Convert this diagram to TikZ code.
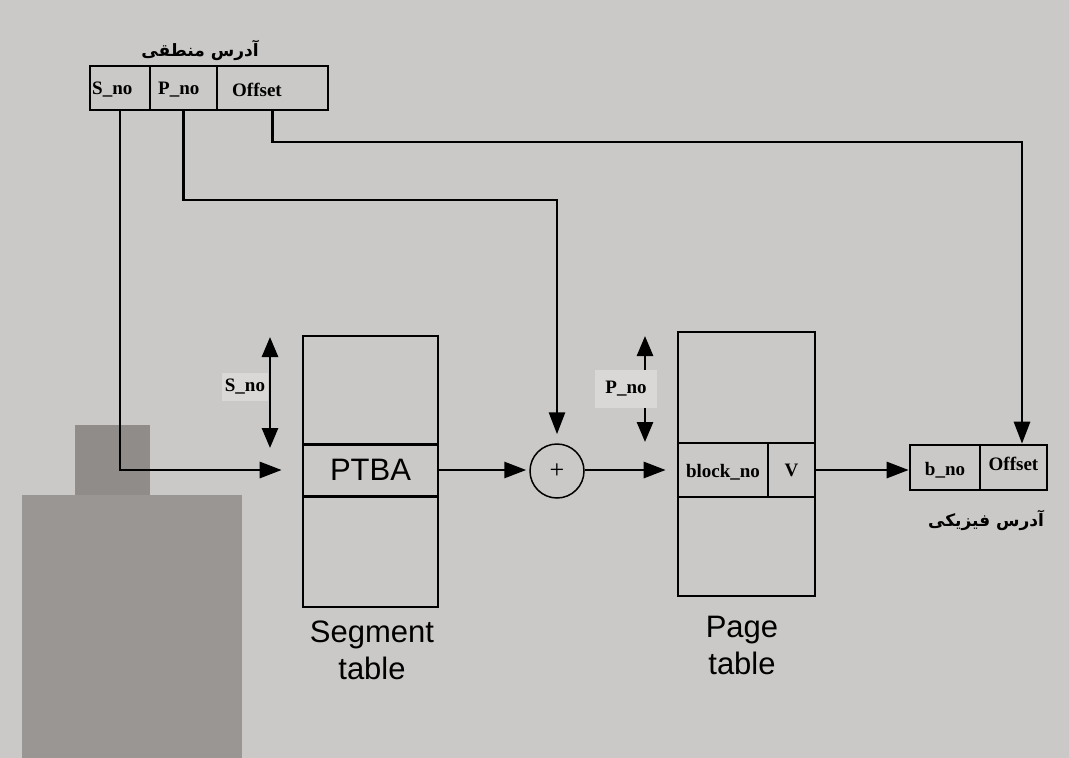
\documentclass[tikz,border=0pt]{standalone}
\usepackage{fontspec}
\setmainfont{Liberation Serif}
\newfontfamily\arialf{Liberation Sans}
\newfontfamily\farsi[Script=Arabic]{DejaVu Sans}
\TeXXeTstate=1
\usetikzlibrary{arrows.meta}
\definecolor{bgc}{HTML}{CBC9C7}
\definecolor{lightc}{HTML}{D9D8D6}
\definecolor{patchA}{HTML}{8F8C8A}
\definecolor{patchB}{HTML}{9A9694}
\tikzset{
  cellbox/.style={draw=black, line width=2.6pt, inner sep=0pt},
  lbl/.style={font=\bfseries\fontsize{19}{21}\selectfont, inner sep=2pt},
  sanslbl/.style={font=\arialf\fontsize{31}{37}\selectfont, align=center, inner sep=0pt},
  farsilbl/.style={font=\farsi\bfseries\fontsize{17}{19}\selectfont, inner sep=0pt},
  conn/.style={line width=2.8pt, -{Triangle[length=22pt,width=16pt]}},
  dbl/.style={line width=2.8pt, {Triangle[length=20pt,width=16pt]}-{Triangle[length=20pt,width=16pt]}},
}
\begin{document}
\begin{tikzpicture}[x=1pt,y=-1pt]
\useasboundingbox (0,0) rectangle (1069,758);
\fill[bgc] (0,0) rectangle (1069,758);
\fill[patchA] (75,425) rectangle (150,495);
\fill[patchB] (22,495) rectangle (242,758);

% logical address
\node[cellbox, minimum width=60pt, minimum height=44pt] (ls) at (120,88) {};
\node[cellbox, minimum width=67pt, minimum height=44pt] (lp) at (183.5,88) {};
\node[cellbox, minimum width=111pt, minimum height=44pt] (lo) at (272.5,88) {};
\node[lbl, anchor=west] (lst) at (90,90) {S\_no};
\node[lbl, anchor=west] (lpt) at (156,90) {P\_no};
\node[lbl, anchor=west] (lot) at (230,90) {Offset};
\node[farsilbl] (ltitle) at (200,50) {\beginR آدرس منطقی\endR};

% segment table
\node[cellbox, minimum width=135pt, minimum height=109pt] (segtop) at (370.5,390.5) {};
\node[cellbox, minimum width=135pt, minimum height=52pt, font=\arialf\fontsize{31}{33}\selectfont] (ptba) at (370.5,470) {PTBA};
\node[cellbox, minimum width=135pt, minimum height=110pt] (segbot) at (370.5,552) {};
\node[sanslbl] (segname) at (372,650) {Segment\\table};

% S_no range
\coordinate (sa) at (270,337);
\coordinate (sb) at (270,448);
\draw[dbl] (sa) -- (sb);
\node[lbl, fill=lightc, inner xsep=3pt, inner ysep=6pt] (sno) at (245,387) {S\_no};

% adder
\node[draw=black, circle, line width=1.5pt, minimum size=54pt, inner sep=0pt, font=\fontsize{26}{28}\selectfont] (plus) at (557,471) {+};

% page table
\node[cellbox, minimum width=137pt, minimum height=111pt] (pgtop) at (746.5,387.5) {};
\node[cellbox, minimum width=90pt, minimum height=54pt] (blk) at (723,470) {};
\node[lbl] (blkt) at (723,472) {block\_no};
\node[cellbox, minimum width=47pt, minimum height=54pt] (vv) at (791.5,470) {};
\node[lbl] (vvt) at (791.5,470) {V};
\node[cellbox, minimum width=137pt, minimum height=99pt] (pgbot) at (746.5,546.5) {};
\node[sanslbl] (pgname) at (742,645) {Page\\table};

% P_no range
\coordinate (pa) at (645,336);
\coordinate (pb) at (645,442);
\draw[dbl] (pa) -- (pb);
\node[lbl, fill=lightc, minimum width=62pt, minimum height=38pt] (pno) at (626,389) {P\_no};

% physical address
\node[cellbox, minimum width=70pt, minimum height=45pt] (bno) at (945,467.5) {};
\node[lbl] (bnot) at (945,470) {b\_no};
\node[cellbox, minimum width=67pt, minimum height=45pt] (poff) at (1013.5,467.5) {};
\node[lbl] (pofft) at (1013.5,464) {Offset};
\node[farsilbl] (ptitle) at (986,520) {\beginR آدرس فیزیکی\endR};

% connectors
\draw[conn, shorten >=20pt] (ls.south) |- (ptba.west);
\coordinate (pc) at (557,200);
\draw[conn, shorten >=9pt] (lp.south) |- (pc) -- (plus.north);
\coordinate (oc) at (1022,142);
\draw[conn] (lo.south) |- (oc) -- (oc |- poff.north);
\draw[conn, shorten >=3pt] (ptba.east) -- (ptba.east -| plus.west);
\draw[conn, shorten >=11pt] (plus.east |- blk.west) -- (blk.west);
\draw[conn] (vv.east) -- (vv.east -| bno.west);
\end{tikzpicture}
\end{document}
